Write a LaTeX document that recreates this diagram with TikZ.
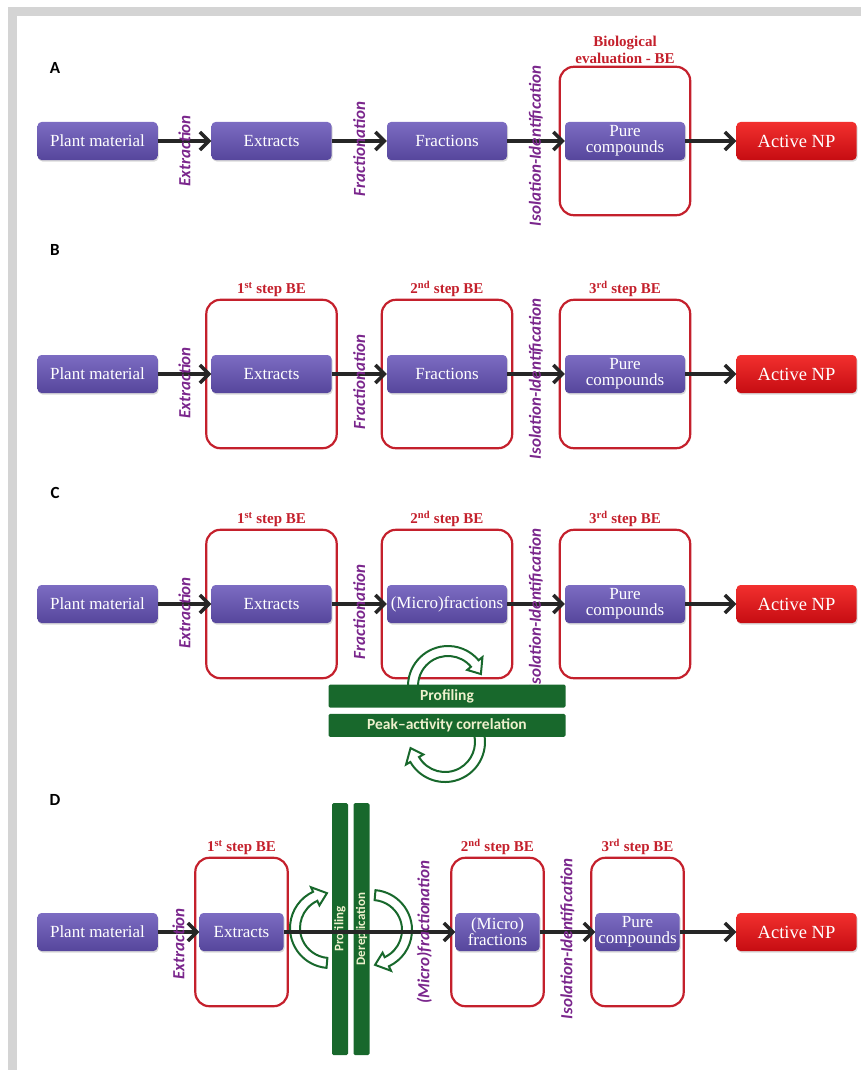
\documentclass[tikz,border=0pt]{standalone}
\usepackage{fontspec}
\setmainfont{Liberation Serif}
\newfontfamily\labelfont{Carlito}
\usetikzlibrary{arrows.meta,positioning,fit,shadows}

\definecolor{boxtop}{RGB}{124,108,194}
\definecolor{boxbot}{RGB}{86,70,156}
\definecolor{nptop}{RGB}{242,48,46}
\definecolor{npbot}{RGB}{198,12,18}
\definecolor{bered}{RGB}{196,32,44}
\definecolor{stepviolet}{RGB}{122,38,140}
\definecolor{bargreen}{RGB}{24,104,44}
\definecolor{bartext}{RGB}{238,240,205}
\definecolor{framegray}{RGB}{212,212,212}

\newcommand{\greenloop}[3]{%
  \filldraw[loop, shift={#1}] (#2:40) arc[start angle=#2, end angle=#3, radius=40]
    -- (#3:45) -- (#3-20:35) -- (#3:25) -- (#3:30)
    arc[start angle=#3, end angle=#2, radius=30] -- cycle;}

\begin{document}
\begin{tikzpicture}[x=1pt,y=1pt,
    stage/.style={rounded corners=4pt, top color=boxtop, bottom color=boxbot, text=white,
      minimum width=120pt, minimum height=38pt, inner sep=2pt, align=center,
      font=\fontsize{17}{16}\selectfont,
      drop shadow={opacity=0.3, shadow xshift=1pt, shadow yshift=-1.5pt}},
    narrow/.style={stage, minimum width=84pt},
    active/.style={stage, top color=nptop, bottom color=npbot, font=\fontsize{18.5}{18}\selectfont},
    bebox/.style={draw=bered, line width=2.2pt, rounded corners=14pt, inner xsep=5pt, inner ysep=55pt},
    betitle/.style={text=bered, font=\bfseries\fontsize{15}{17}\selectfont, align=center, inner sep=2pt},
    flow/.style={line width=3.5pt, draw=black!85, -{Straight Barb[length=9pt,width=18pt]}},
    steplbl/.style={rotate=90, text=stepviolet, font=\labelfont\bfseries\itshape\fontsize{17}{17}\selectfont, inner sep=0pt},
    panel/.style={font=\labelfont\bfseries\fontsize{17}{17}\selectfont},
    bar/.style={fill=bargreen, text=bartext, font=\labelfont\bfseries\fontsize{15.5}{15.5}\selectfont,
      rounded corners=1.5pt, inner sep=0pt},
    loop/.style={draw=bargreen, fill=white, line width=2pt}]

  \useasboundingbox (0,0) rectangle (861,-1070);
  \fill[framegray] (8,-7) rectangle (861,-16);
  \fill[framegray] (8,-7) rectangle (17,-1070);

  \node[panel] (LA) at (55,-68) {A};
  \node[stage] (PMa) at (97.5,-141) {Plant material};
  \node[stage] (EXa) at (271.5,-141) {Extracts};
  \node[stage] (FRa) at (447,-141) {Fractions};
  \node[stage] (PCa) at (625,-141) {Pure\\compounds};
  \node[active] (NPa) at (796.5,-141) {Active NP};
  \node[bebox, fit=(PCa), label={[betitle]above:{Biological\\evaluation - BE}}] (BEa) {};
  \draw[flow] (PMa) -- node[steplbl, xshift=-10pt] (exa) {Extraction} (EXa);
  \draw[flow] (EXa) -- node[steplbl, xshift=-8pt] (fra) {Fractionation} (FRa);
  \draw[flow] (FRa) -- node[steplbl, xshift=-5pt] (isa) {Isolation-Identification} (PCa);
  \draw[flow] (PCa) -- (NPa);

  \node[panel] (LB) at (55,-250) {B};
  \node[stage] (PMb) at (97.5,-374) {Plant material};
  \node[stage] (EXb) at (271.5,-374) {Extracts};
  \node[stage] (FRb) at (447,-374) {Fractions};
  \node[stage] (PCb) at (625,-374) {Pure\\compounds};
  \node[active] (NPb) at (796.5,-374) {Active NP};
  \node[bebox, fit=(EXb), label={[betitle]above:{1\textsuperscript{st} step BE}}] (BE1b) {};
  \node[bebox, fit=(FRb), label={[betitle]above:{2\textsuperscript{nd} step BE}}] (BE2b) {};
  \node[bebox, fit=(PCb), label={[betitle]above:{3\textsuperscript{rd} step BE}}] (BE3b) {};
  \draw[flow] (PMb) -- node[steplbl, xshift=-9pt] (exb) {Extraction} (EXb);
  \draw[flow] (EXb) -- node[steplbl, xshift=-8pt] (frb) {Fractionation} (FRb);
  \draw[flow] (FRb) -- node[steplbl, xshift=-5pt] (isb) {Isolation-Identification} (PCb);
  \draw[flow] (PCb) -- (NPb);

  \node[panel] (LC) at (55,-493) {C};
  \node[stage] (PMc) at (97.5,-604) {Plant material};
  \node[stage] (EXc) at (271.5,-604) {Extracts};
  \node[stage] (FRc) at (447,-604) {(Micro)fractions};
  \node[stage] (PCc) at (625,-604) {Pure\\compounds};
  \node[active] (NPc) at (796.5,-604) {Active NP};
  \node[bebox, fit=(EXc), label={[betitle]above:{1\textsuperscript{st} step BE}}] (BE1c) {};
  \node[bebox, fit=(FRc), label={[betitle]above:{2\textsuperscript{nd} step BE}}] (BE2c) {};
  \node[bebox, fit=(PCc), label={[betitle]above:{3\textsuperscript{rd} step BE}}] (BE3c) {};
  \draw[flow] (PMc) -- node[steplbl, xshift=-9pt] (exc) {Extraction} (EXc);
  \draw[flow] (EXc) -- node[steplbl, xshift=-8pt] (frc) {Fractionation} (FRc);
  \draw[flow] (FRc) -- node[steplbl, xshift=-5pt] (isc) {Isolation-Identification} (PCc);
  \draw[flow] (PCc) -- (NPc);
  \greenloop{(448,-686)}{185}{40}
  \greenloop{(445,-742)}{15}{-150}
  \node[bar, minimum width=237pt, minimum height=23pt, below=5pt of BE2c] (PRc) {Profiling};
  \node[bar, minimum width=237pt, minimum height=23pt, below=6pt of PRc] (PKc) {Peak–activity correlation};

  \node[panel] (LD) at (55,-800) {D};
  \node[stage] (PMd) at (97.5,-932) {Plant material};
  \node[narrow] (EXd) at (241.5,-932) {Extracts};
  \node[narrow] (MFd) at (497.5,-932) {(Micro)\\fractions};
  \node[narrow] (PCd) at (637.5,-932) {Pure\\compounds};
  \node[active] (NPd) at (796.5,-932) {Active NP};
  \node[bebox, inner xsep=4pt, fit=(EXd), label={[betitle]above:{1\textsuperscript{st} step BE}}] (BE1d) {};
  \node[bebox, inner xsep=4pt, fit=(MFd), label={[betitle]above:{2\textsuperscript{nd} step BE}}] (BE2d) {};
  \node[bebox, inner xsep=4pt, fit=(PCd), label={[betitle]above:{3\textsuperscript{rd} step BE}}] (BE3d) {};
  \greenloop{(330,-928)}{-95}{-245}
  \greenloop{(372,-930)}{85}{-65}
  \node[bar, rotate=90, minimum width=252pt, minimum height=16pt, font=\labelfont\bfseries\fontsize{13}{13}\selectfont] (PRd) at (340,-929) {Profiling};
  \node[bar, rotate=90, minimum width=252pt, minimum height=16pt, font=\labelfont\bfseries\fontsize{13}{13}\selectfont] (DRd) at (361.5,-929) {Dereplication};
  \draw[flow] (PMd) -- node[steplbl, xshift=-12pt] (exd) {Extraction} (EXd);
  \draw[flow] (EXd) -- node[steplbl, pos=0.82] (frd) {(Micro)fractionation} (MFd);
  \draw[flow] (MFd) -- node[steplbl, xshift=-7pt] (isd) {Isolation-Identification} (PCd);
  \draw[flow] (PCd) -- (NPd);
\end{tikzpicture}
\end{document}
